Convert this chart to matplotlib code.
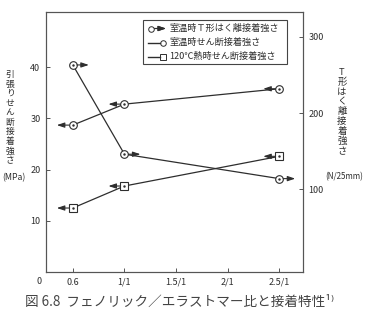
import matplotlib
matplotlib.use("Agg")
import matplotlib.pyplot as plt
from matplotlib.transforms import offset_copy
from matplotlib.lines import Line2D

plt.rcParams['font.family'] = ['Noto Sans CJK JP', 'DejaVu Sans']

# ---- data ----
x_labels = ["0.6", "1/1", "1.5/1", "2/1", "2.5/1"]
x_pos = [0, 1, 2, 3, 4]
data_x = [0, 1, 4]
t_peel_rt = [263, 146, 114]        # N/25mm (right axis)
shear_rt = [28.7, 32.8, 35.8]       # MPa (left axis)
shear_120 = [12.5, 16.8, 22.6]      # MPa (left axis)
legend_labels = ["室温時Ｔ形はく離接着強さ", "室温時せん断接着強さ", "120℃熱時せん断接着強さ"]
left_ticks = [10, 20, 30, 40]
right_ticks = [100, 200, 300]

C = "#2e2e2e"
W, H = 369, 309
fig = plt.figure(figsize=(W / 100, H / 100), dpi=100)
fig.patch.set_facecolor("white")

L, R, T, B = 46, 303, 12, 272
ax = fig.add_axes([L / W, 1 - B / H, (R - L) / W, (B - T) / H])
ax.set_xlim(-0.52, 4.46)
ax.set_ylim(0, 50.8)
ax2 = ax.twinx()
ax2.set_ylim(-8.4, 332.4)

for a in (ax, ax2):
    for s in a.spines.values():
        s.set_color("#555555")
        s.set_linewidth(0.8)

ax.set_xticks(x_pos)
ax.set_xticklabels(x_labels)
ax.set_yticks(left_ticks)
ax2.set_yticks(right_ticks)
ax.tick_params(axis="both", direction="in", length=3, width=0.7, colors="#555555",
               labelcolor=C, labelsize=6.5, pad=4)
ax2.tick_params(axis="y", direction="in", length=3, width=0.7, colors="#555555",
                labelcolor=C, labelsize=6.5, pad=4)

mk = dict(markersize=5.5, markerfacecolor="white", markeredgecolor=C, markeredgewidth=0.8)
dot = dict(marker=".", markersize=1.5, color=C, linestyle="none")

ax2.plot(data_x, t_peel_rt, color=C, lw=0.9, marker="o", **mk, zorder=3)
ax2.plot(data_x, t_peel_rt, **dot, zorder=4)
ax.plot(data_x, shear_rt, color=C, lw=0.9, marker="o", **mk, zorder=3)
ax.plot(data_x, shear_rt, **dot, zorder=4)
ax.plot(data_x, shear_120, color=C, lw=0.9, marker="s", **mk, zorder=3)
ax.plot(data_x, shear_120, **dot, zorder=4)

aprops = dict(arrowstyle="-|>,head_length=0.45,head_width=0.15", color=C, lw=0.8,
              shrinkA=0, shrinkB=0)


def arrows(a, xs, ys, direction):
    for xv, yv in zip(xs, ys):
        tail = offset_copy(a.transData, fig=fig, x=4 * direction, y=0, units="dots")
        head = offset_copy(a.transData, fig=fig, x=16 * direction, y=0, units="dots")
        a.annotate("", xy=(xv, yv), xycoords=head, xytext=(xv, yv), textcoords=tail,
                   arrowprops=aprops, zorder=5)


arrows(ax2, data_x, t_peel_rt, 1)
arrows(ax, data_x, shear_rt, -1)
arrows(ax, data_x, shear_120, -1)

# ---- legend (manual) ----
fx = lambda p: p / W
fy = lambda p: 1 - p / H
fig.patches.append(plt.Rectangle((fx(143), fy(64)), fx(287) - fx(143), fy(20) - fy(64),
                                 transform=fig.transFigure, fill=False,
                                 edgecolor="#444444", lw=0.8, zorder=10))
rows = [28.5, 42.5, 56.5]
markers = ["o", "o", "s"]
dirs = [1, -1, -1]
for yy, m, d, lab in zip(rows, markers, dirs, legend_labels):
    mx = 151 if d == 1 else 163
    fig.add_artist(Line2D([fx(mx)], [fy(yy)], marker=m, markersize=4,
                          markerfacecolor="white", markeredgecolor=C, markeredgewidth=0.7,
                          linestyle="none", transform=fig.transFigure, zorder=11))
    if d == 1:
        fig.add_artist(plt.annotate("", xy=(fx(166), fy(yy)), xytext=(fx(154), fy(yy)),
                                    xycoords="figure fraction", textcoords="figure fraction",
                                    arrowprops=aprops))
    else:
        fig.add_artist(Line2D([fx(148), fx(160)], [fy(yy), fy(yy)], color=C, lw=1.0,
                              transform=fig.transFigure, zorder=11))
    fig.text(fx(169), fy(yy), lab, fontsize=6.6, color=C, va="center", ha="left")

# ---- axis labels (vertical stacked) ----
fig.text(fx(10), fy(70), "\n".join("引張りせん断接着強さ"), fontsize=6.3, color=C,
         ha="center", va="top", linespacing=1.08)
fig.text(fx(14), fy(178), "(MPa)", fontsize=6.3, color=C, ha="center", va="center")
fig.text(fx(342), fy(68), "\n".join("T形はく離接着強さ"), fontsize=6.8, color=C,
         ha="center", va="top", linespacing=1.1)
fig.text(fx(344), fy(177), "(N/25mm)", fontsize=5.8, color=C, ha="center", va="center")
fig.text(fx(39), fy(281), "0", fontsize=6.5, color=C, ha="center", va="center")

# ---- caption ----
fig.text(fx(25), fy(308.5), "図 6.8  フェノリック／エラストマー比と接着特性¹⁾",
         fontsize=9.8, color="#444444", ha="left", va="bottom")

fig.savefig("out.png", dpi=100, facecolor="white")
